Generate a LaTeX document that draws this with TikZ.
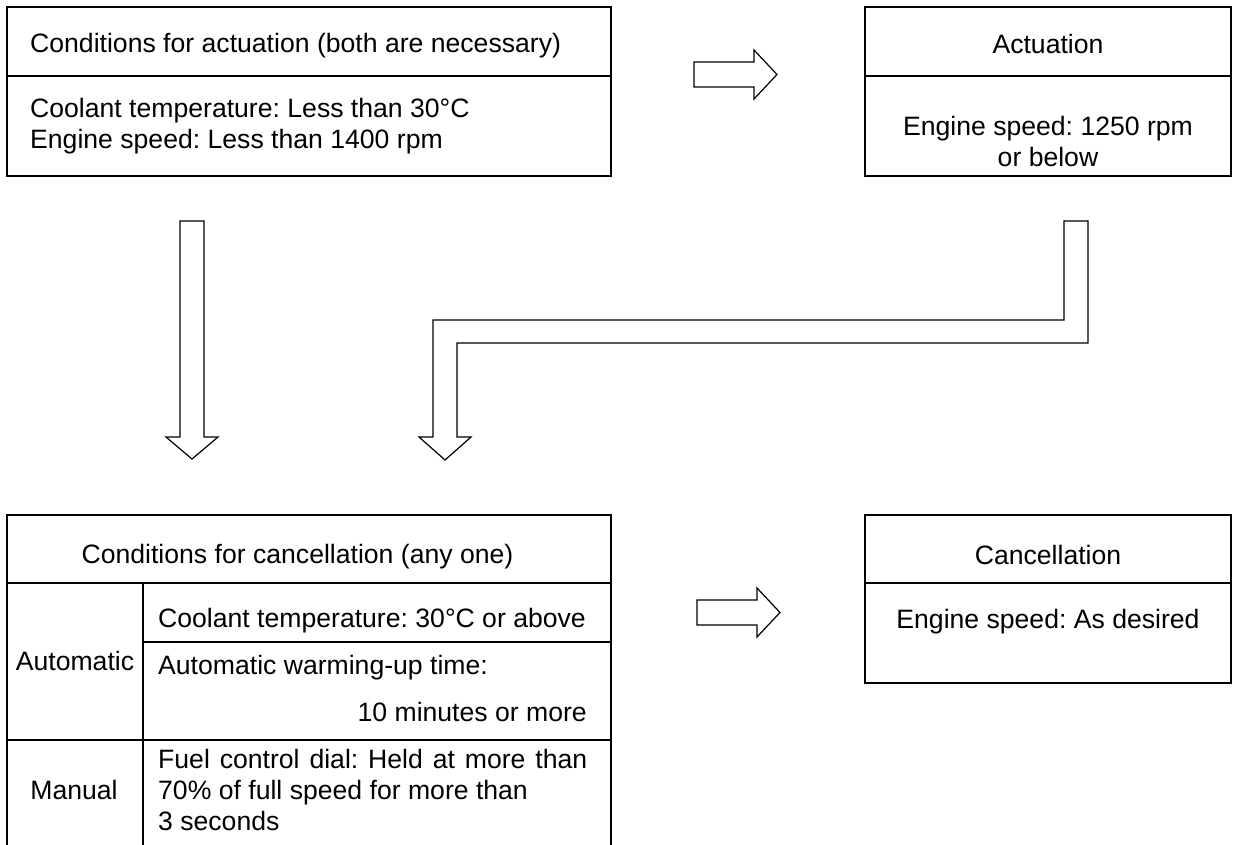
\documentclass[tikz,border=0pt]{standalone}
\usepackage{fontspec}
\setmainfont{Liberation Sans}
\usepackage{tikz}
\frenchspacing

\begin{document}
\begin{tikzpicture}[x=1pt, y=-1pt,
  font=\fontsize{26.6}{31}\selectfont,
  frame/.style={line width=1.3pt, draw=black},
  hollow/.style={line width=1.2pt, draw=black, fill=white, line join=miter},
  txt/.style={inner sep=0pt, anchor=base west},
  ctr/.style={inner sep=0pt, anchor=base},
  rtxt/.style={inner sep=0pt, anchor=base east}
]
\useasboundingbox (0,0) rectangle (1236,845);
\def\fw{429}

% conditions for actuation
\draw[frame] (7,7) rectangle (611,176);
\draw[frame] (7,76) -- (611,76);
\node[txt] (condact) at (30,53) {Conditions for actuation (both are necessary)};
\node[txt] (condcool) at (30,118) {Coolant temperature: Less than 30°C};
\node[txt] (condrpm) at (30,149) {Engine speed: Less than 1400 rpm};

% actuation
\draw[frame] (865,7) rectangle (1231,176);
\draw[frame] (865,76) -- (1231,76);
\node[ctr] (act) at (1048,54) {Actuation};
\node[ctr] (actrpm) at (1048,136) {Engine speed: 1250 rpm};
\node[ctr] (actbelow) at (1048,167) {or below};

% conditions for cancellation (open at the bottom)
\draw[frame] (7,845) -- (7,515) -- (611,515) -- (611,845);
\draw[frame] (7,583) -- (611,583);
\draw[frame] (143,583) -- (143,845);
\draw[frame] (143,642) -- (611,642);
\draw[frame] (7,740) -- (611,740);
\node[ctr] (condcan) at (297.5,563) {Conditions for cancellation (any one)};
\node[ctr] (auto) at (75,670) {Automatic};
\node[txt] (autocool) at (158,627) {Coolant temperature: 30°C or above};
\node[txt] (autotime) at (158,674) {Automatic warming-up time:};
\node[rtxt] (autotenmin) at (587,721) {10 minutes or more};
\node[ctr] (manual) at (74,799) {Manual};
\node[txt] (dial1) at (158,768) {\makebox[\fw pt][s]{Fuel control dial: Held at more than}};
\node[txt] (dial2) at (158,799) {70\% of full speed for more than};
\node[txt] (dial3) at (158,830) {3 seconds};

% cancellation
\draw[frame] (865,515) rectangle (1231,683);
\draw[frame] (865,583) -- (1231,583);
\node[ctr] (can) at (1048,564) {Cancellation};
\node[ctr] (canrpm) at (1048,628) {Engine speed: As desired};

% hollow arrows
\coordinate (ra) at (694,74.5);
\coordinate (rb) at (697,612.5);
\foreach \p in {ra,rb}
  \draw[hollow] (\p) ++(0,-12.5) -- ++(60,0) -- ++(0,-12) -- ++(23,24.5)
    -- ++(-23,24.5) -- ++(0,-12) -- ++(-60,0) -- cycle;

\draw[hollow] (180,221) -- (204,221) -- (204,437) -- (218,437) -- (192,459)
  -- (166,437) -- (180,437) -- cycle;

\draw[hollow] (1064,221) -- (1088,221) -- (1088,343) -- (457,343) -- (457,437)
  -- (471,437) -- (445,460) -- (419,437) -- (433,437) -- (433,320)
  -- (1064,320) -- cycle;
\end{tikzpicture}
\end{document}
